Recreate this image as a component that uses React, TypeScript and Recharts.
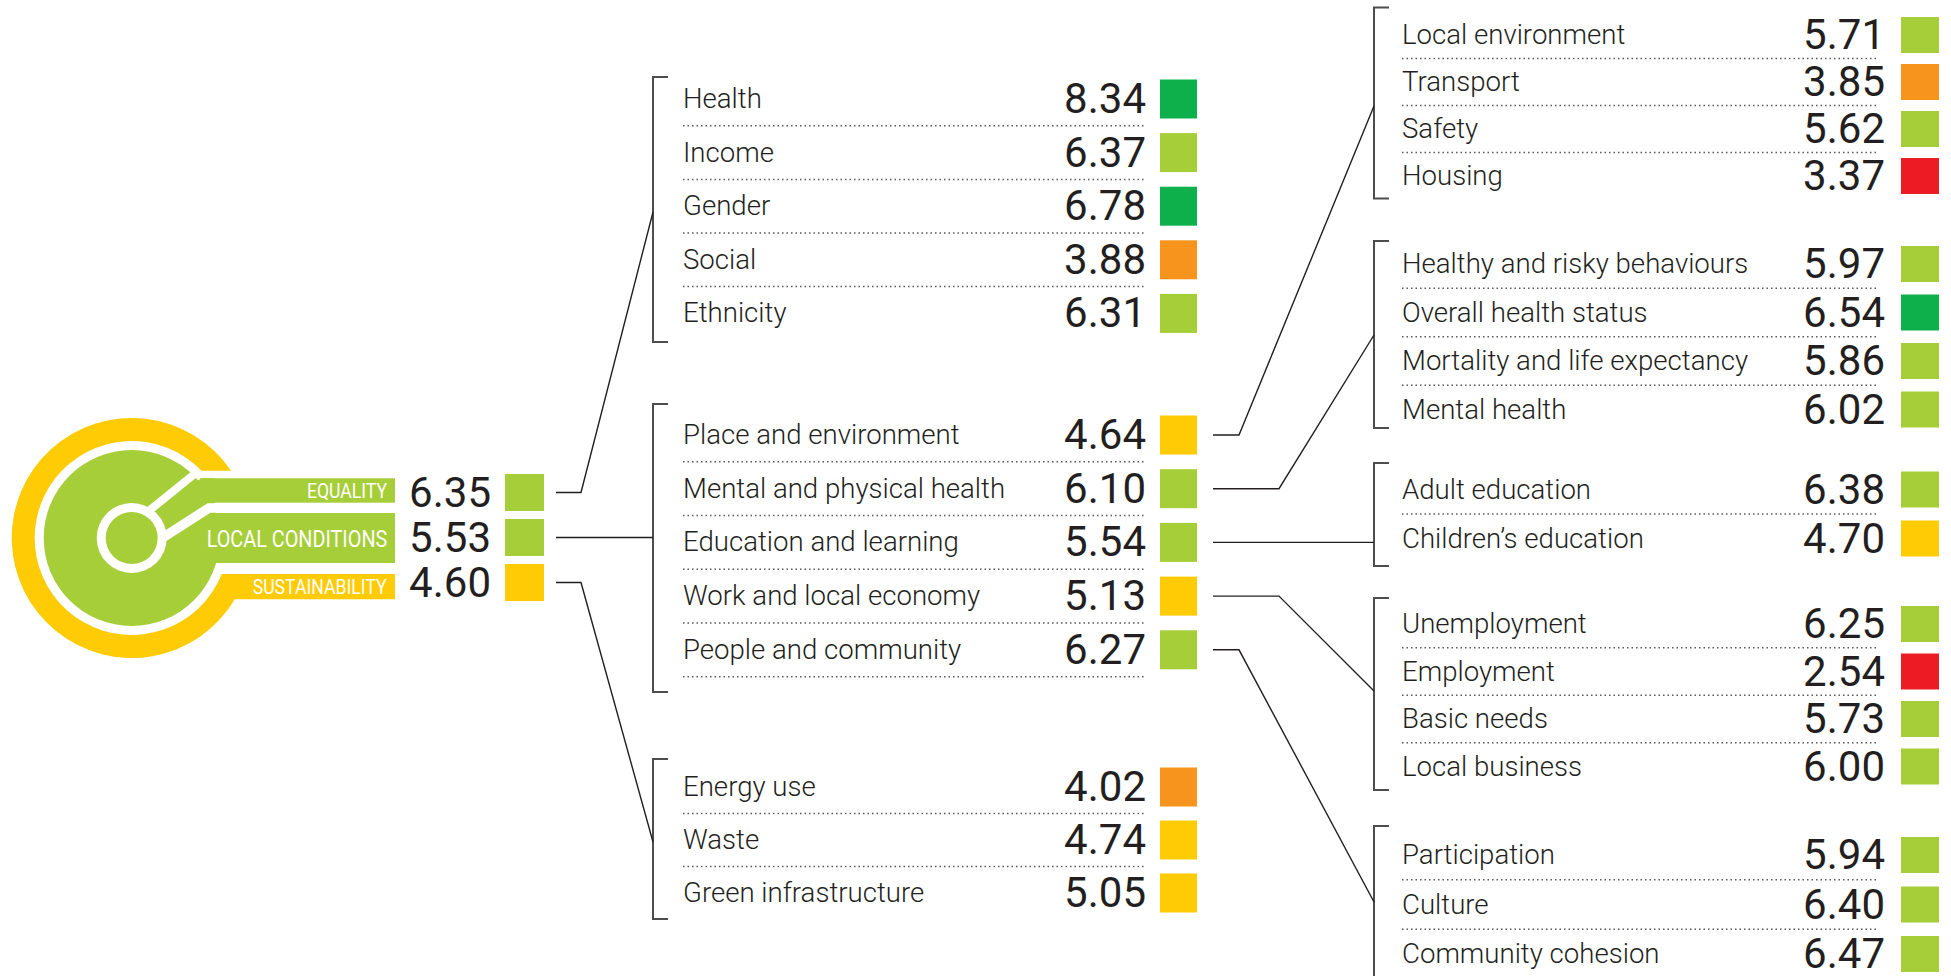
import React from "react";
import { ScatterChart, Scatter, XAxis, YAxis, Customized } from "recharts";

const W = 1951;
const H = 976;

// ---- data ----
const pillarLabels = ["EQUALITY", "LOCAL CONDITIONS", "SUSTAINABILITY"];
const pillarValues = [6.35, 5.53, 4.6];

const equalityLabels = ["Health", "Income", "Gender", "Social", "Ethnicity"];
const equalityValues = [8.34, 6.37, 6.78, 3.88, 6.31];

const localLabels = [
  "Place and environment",
  "Mental and physical health",
  "Education and learning",
  "Work and local economy",
  "People and community",
];
const localValues = [4.64, 6.1, 5.54, 5.13, 6.27];

const sustainLabels = ["Energy use", "Waste", "Green infrastructure"];
const sustainValues = [4.02, 4.74, 5.05];

const placeLabels = ["Local environment", "Transport", "Safety", "Housing"];
const placeValues = [5.71, 3.85, 5.62, 3.37];

const healthLabels = [
  "Healthy and risky behaviours",
  "Overall health status",
  "Mortality and life expectancy",
  "Mental health",
];
const healthValues = [5.97, 6.54, 5.86, 6.02];

const educationLabels = ["Adult education", "Children\u2019s education"];
const educationValues = [6.38, 4.7];

const workLabels = ["Unemployment", "Employment", "Basic needs", "Local business"];
const workValues = [6.25, 2.54, 5.73, 6.0];

const peopleLabels = ["Participation", "Culture", "Community cohesion"];
const peopleValues = [5.94, 6.4, 6.47];

// ---- styling / layout ----
const INK = "#231f20";
const FONT = "Roboto, 'Noto Sans', sans-serif";
const LIME = "#a6ce39";
const YELLOW = "#ffcb05";

function scoreColor(v: number) {
  if (v >= 6.5) return "#0db04b";
  if (v >= 5.5) return LIME;
  if (v >= 4.5) return YELLOW;
  if (v >= 3.5) return "#f7941d";
  return "#ed1c24";
}

const COLS: Record<string, any> = {
  A: { sqX: 505, sqW: 39, sqH: 37, valueRight: 491 },
  B: { sqX: 1160, sqW: 37, sqH: 39, valueRight: 1146, labelX: 683, ruleEnd: 1146, bracketX: 653 },
  C: { sqX: 1901, sqW: 38, sqH: 36, valueRight: 1885, labelX: 1402, ruleEnd: 1878, bracketX: 1374 },
};

const groups = [
  { labels: equalityLabels, values: equalityValues, col: "B", first: 99, step: 53.6, lastRule: false, top: 77, bottom: 342 },
  { labels: localLabels, values: localValues, col: "B", first: 435, step: 53.7, lastRule: true, top: 404, bottom: 692 },
  { labels: sustainLabels, values: sustainValues, col: "B", first: 787, step: 53, lastRule: false, top: 759, bottom: 919 },
  { labels: placeLabels, values: placeValues, col: "C", first: 35, step: 47, lastRule: false, top: 7.5, bottom: 198.5 },
  { labels: healthLabels, values: healthValues, col: "C", first: 264, step: 48.5, lastRule: false, top: 241, bottom: 428 },
  { labels: educationLabels, values: educationValues, col: "C", first: 489.5, step: 49, lastRule: false, top: 463, bottom: 566 },
  { labels: workLabels, values: workValues, col: "C", first: 624, step: 47.5, lastRule: false, top: 598, bottom: 790 },
  { labels: peopleLabels, values: peopleValues, col: "C", first: 855, step: 49.5, lastRule: false, top: 826, bottom: 1010 },
];

const rowY = (g: any, i: number) => g.first + i * g.step;

const rows = groups.flatMap((g) =>
  g.labels.map((label, i) => ({
    x: COLS[g.col].sqX,
    y: rowY(g, i),
    label,
    value: g.values[i],
    col: g.col,
    rule: i < g.labels.length - 1 || g.lastRule,
    step: g.step,
  }))
);

const pillarRows = pillarLabels.map((label, i) => ({
  x: COLS.A.sqX,
  y: 492.5 + i * 45,
  label,
  value: pillarValues[i],
  col: "A",
}));

const brackets = groups.map((g) => {
  const bx = COLS[g.col].bracketX;
  return [
    { x: bx + 15, y: g.top },
    { x: bx, y: g.top },
    { x: bx, y: g.bottom },
    { x: bx + 15, y: g.bottom },
  ];
});

// connectors: pillar -> middle bracket, local condition -> right bracket
const pillarTargets = [
  { elbow: 581, ty: 212 },
  { elbow: null, ty: null },
  { elbow: 581, ty: 842 },
];
const localTargets = [
  { elbow: 1239, ty: 106 },
  { elbow: 1279, ty: 335 },
  { elbow: null, ty: null },
  { elbow: 1279, ty: 691 },
  { elbow: 1239, ty: 902 },
];

const connectors = [
  ...pillarRows.map((r, i) => {
    const t = pillarTargets[i];
    const x0 = 556;
    const bx = COLS.B.bracketX;
    return t.elbow == null
      ? [{ x: x0, y: r.y }, { x: bx, y: r.y }]
      : [{ x: x0, y: r.y }, { x: t.elbow, y: r.y }, { x: bx, y: t.ty }];
  }),
  ...localLabels.map((_, i) => {
    const y = rowY(groups[1], i);
    const t = localTargets[i];
    const x0 = 1213;
    const bx = COLS.C.bracketX;
    return t.elbow == null
      ? [{ x: x0, y }, { x: bx, y }]
      : [{ x: x0, y }, { x: t.elbow, y }, { x: bx, y: t.ty }];
  }),
];

function RowShape(props: any) {
  const { cx, cy, payload } = props;
  const c = COLS[payload.col];
  const dx = cx - c.sqX;
  return (
    <g>
      {payload.label && c.labelX != null && (
        <text x={c.labelX + dx} y={cy + 9} fontFamily={FONT} fontWeight={300} fontSize={27.6} fill={INK}>
          {payload.label}
        </text>
      )}
      {payload.rule && (
        <line
          x1={c.labelX + dx}
          x2={c.ruleEnd + dx}
          y1={cy + payload.step / 2}
          y2={cy + payload.step / 2}
          stroke="#58595b"
          strokeWidth={1.5}
          strokeDasharray="1.5 3"
        />
      )}
      <text x={c.valueRight + dx} y={cy + 14} textAnchor="end" fontFamily={FONT} fontSize={42} fill={INK}>
        {payload.value.toFixed(2)}
      </text>
      <rect x={cx} y={cy - c.sqH / 2} width={c.sqW} height={c.sqH} fill={scoreColor(payload.value)} />
    </g>
  );
}

const noDot = () => <g />;

function Logo() {
  const cx = 131.7;
  const cy = 538;
  const R = 120;
  const r = 97;
  const ty = 470.7;
  const by = 599.3;
  const sy = 574;
  const px = (rad: number, y: number) => cx + Math.sqrt(rad * rad - (y - cy) * (y - cy));
  const yellow = `M ${px(R, ty)} ${ty} A ${R} ${R} 0 1 0 ${px(R, by)} ${by} L 395 ${by} L 395 ${sy} L ${px(r, sy)} ${sy} A ${r} ${r} 0 1 1 ${px(r, ty)} ${ty} Z`;
  const bandText = [
    { y: 498, size: 21, x0: 307, w: 80 },
    { y: 546.6, size: 24, x0: 206.7, w: 180.6 },
    { y: 594.3, size: 21, x0: 252.7, w: 134 },
  ];
  return (
    <g>
      <path d={yellow} fill={YELLOW} />
      <circle cx={cx} cy={cy} r={88} fill={LIME} />
      <rect x={200} y={478.3} width={195} height={24.4} fill={LIME} />
      <rect x={170} y={513} width={225} height={50} fill={LIME} />
      <polygon points={`${cx},518 201.7,478.3 215,478.3 215,502.7 ${cx},556`} fill={LIME} />
      <line x1={140} y1={518} x2={197} y2={472} stroke="#fff" strokeWidth={8} />
      <polyline points={`396,507.9 209,507.9 156,542`} fill="none" stroke="#fff" strokeWidth={9.5} />
      <circle cx={cx} cy={cy} r={35} fill="#fff" />
      <circle cx={cx} cy={cy} r={26} fill={LIME} />
      {pillarLabels.map((t, i) => (
        <text
          key={t}
          x={bandText[i].x0}
          y={bandText[i].y}
          fontFamily={FONT}
          fontSize={bandText[i].size}
          fill="#fff"
          textLength={bandText[i].w}
          lengthAdjust="spacingAndGlyphs"
        >
          {t}
        </text>
      ))}
    </g>
  );
}

export default function App() {
  return (
    <div style={{ position: "absolute", left: 0, top: 0, width: W, height: H, background: "#fff", overflow: "hidden" }}>
      <ScatterChart width={W} height={H} margin={{ top: 0, right: 0, bottom: 0, left: 0 }}>
        <XAxis type="number" dataKey="x" domain={[0, W]} hide allowDataOverflow />
        <YAxis type="number" dataKey="y" domain={[0, H]} reversed hide allowDataOverflow />
        <Customized component={Logo} />
        {brackets.map((pts, i) => (
          <Scatter
            key={`br${i}`}
            data={pts}
            line={{ stroke: "#4d4d4f", strokeWidth: 2 }}
            shape={noDot}
            isAnimationActive={false}
          />
        ))}
        {connectors.map((pts, i) => (
          <Scatter
            key={`cn${i}`}
            data={pts}
            line={{ stroke: "#231f20", strokeWidth: 1.4 }}
            shape={noDot}
            isAnimationActive={false}
          />
        ))}
        <Scatter data={pillarRows} shape={RowShape} isAnimationActive={false} />
        <Scatter data={rows} shape={RowShape} isAnimationActive={false} />
      </ScatterChart>
    </div>
  );
}
